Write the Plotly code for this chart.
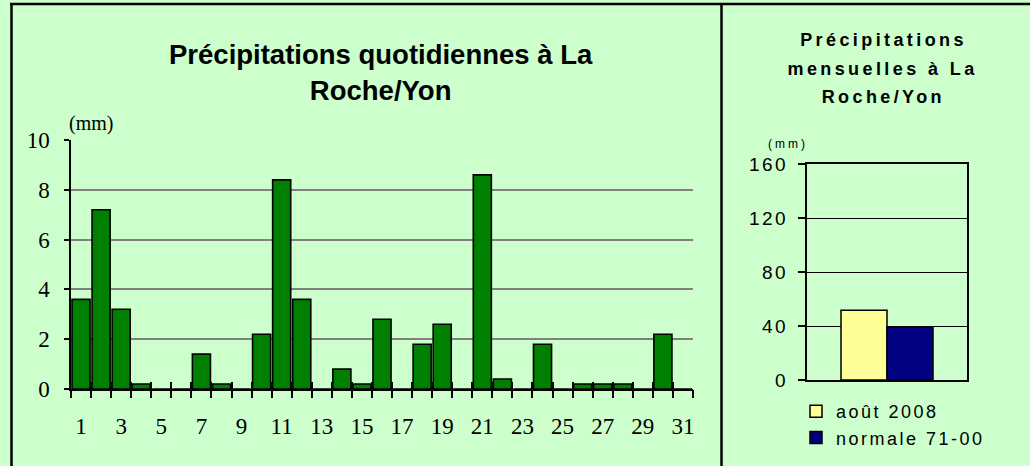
import json
import plotly.graph_objects as go

# ---------------- data ----------------
days = list(range(1, 32))
daily_rain_mm = [3.6, 7.2, 3.2, 0.2, 0, 0, 1.4, 0.2, 0, 2.2,
                 8.4, 3.6, 0, 0.8, 0.2, 2.8, 0, 1.8, 2.6, 0,
                 8.6, 0.4, 0, 1.8, 0, 0.2, 0.2, 0.2, 0, 2.2, 0]
day_tick_labels = [str(d) for d in days if d % 2 == 1]
day_tick_vals = [d for d in days if d % 2 == 1]
day_boundaries = [d - 0.5 for d in days] + [days[-1] + 0.5]

monthly_names = ["août 2008", "normale 71-00"]
monthly_values = [51.8, 39.5]
monthly_colors = ["#FFFF99", "#000080"]

left_title = "Précipitations quotidiennes à La<br>Roche/Yon"
right_title_lines = ["Précipitations", "mensuelles à La", "Roche/Yon"]

W, H = 1030, 466
BG = "#CCFFCC"
SERIF = "Liberation Serif, Times New Roman, serif"
SANS = "Liberation Sans, Arial, sans-serif"


def px(x):
    return x / W


def py(y):
    return 1 - y / H


fig = go.Figure()

# daily bars
fig.add_trace(go.Bar(
    x=days, y=daily_rain_mm, width=0.9,
    marker=dict(color="#008000", line=dict(color="black", width=1.6)),
    xaxis="x", yaxis="y", showlegend=False, hoverinfo="x+y",
))
# helper empty traces so overlay axes are drawn
fig.add_trace(go.Scatter(x=[], y=[], xaxis="x3", yaxis="y", showlegend=False))
fig.add_trace(go.Scatter(x=[], y=[], xaxis="x4", yaxis="y", showlegend=False))

# monthly bars
offsets = [-0.2875, 0.0]
for name, val, col, off in zip(monthly_names, monthly_values, monthly_colors, offsets):
    fig.add_trace(go.Bar(
        x=[0], y=[val], name=name, width=0.2875, offset=off,
        marker=dict(color=col, line=dict(color="black", width=1.5)),
        xaxis="x2", yaxis="y2",
    ))

left_dom_x = [px(71), px(693)]
left_dom_y = [py(389), py(140)]
right_dom_x = [px(807), px(967)]
right_dom_y = [py(380), py(164.3)]

fig.update_layout(
    width=W, height=H,
    margin=dict(l=0, r=0, t=0, b=0, autoexpand=False),
    paper_bgcolor=BG, plot_bgcolor=BG,
    barmode="overlay",
    font=dict(family=SANS, color="black"),
    xaxis=dict(domain=left_dom_x, anchor="y", range=[0.5, 31.5],
               tickmode="array", tickvals=day_tick_vals, ticktext=day_tick_labels,
               ticks="", ticklabelstandoff=16,
               showgrid=False, zeroline=False, showline=True,
               linecolor="black", linewidth=1.5,
               tickfont=dict(family=SERIF, size=23, color="black")),
    xaxis3=dict(overlaying="x", anchor="y", matches="x", range=[0.5, 31.5],
                tickmode="array", tickvals=day_boundaries, showticklabels=False,
                ticks="outside", ticklen=8, tickwidth=1.5, tickcolor="black",
                showgrid=False, zeroline=False, showline=False),
    xaxis4=dict(overlaying="x", anchor="y", matches="x", range=[0.5, 31.5],
                tickmode="array", tickvals=day_boundaries, showticklabels=False,
                ticks="inside", ticklen=7, tickwidth=1.5, tickcolor="black",
                showgrid=False, zeroline=False, showline=False),
    yaxis=dict(domain=left_dom_y, anchor="x", range=[0, 10], dtick=2,
               ticks="outside", ticklen=5, tickwidth=1.5, tickcolor="black",
               ticklabelstandoff=10,
               showgrid=True, gridcolor="#808080", gridwidth=2,
               zeroline=False, showline=True, linecolor="black", linewidth=1.5,
               tickfont=dict(family=SERIF, size=23, color="black")),
    xaxis2=dict(domain=right_dom_x, anchor="y2", range=[-0.5, 0.5],
                showticklabels=False, ticks="", showgrid=False, zeroline=False,
                showline=True, mirror=True, linecolor="black", linewidth=2),
    yaxis2=dict(domain=right_dom_y, anchor="x2", range=[0, 160], dtick=40,
                ticks="outside", ticklen=7, tickwidth=1.5, tickcolor="black",
                ticklabelstandoff=6,
                showgrid=True, gridcolor="black", gridwidth=1,
                zeroline=False, showline=True, mirror=True,
                linecolor="black", linewidth=2,
                tickfont=dict(family=SANS, size=19, color="black")),
    legend=dict(x=px(796), y=py(393), xanchor="left", yanchor="top",
                bgcolor="rgba(0,0,0,0)", borderwidth=0, tracegroupgap=0,
                font=dict(family=SANS, size=18, color="black")),
)

annotations = [
    dict(text=left_title, x=px(381), y=py(72), xref="paper", yref="paper",
         xanchor="center", yanchor="middle", showarrow=False, align="center",
         font=dict(family=SANS, size=27.5, color="black", weight="bold")),
    dict(text="(mm)", x=px(91), y=py(123), xref="paper", yref="paper",
         xanchor="center", yanchor="middle", showarrow=False,
         font=dict(family=SERIF, size=20, color="black")),
    dict(text="(mm)", x=px(788), y=py(144), xref="paper", yref="paper",
         xanchor="center", yanchor="middle", showarrow=False,
         font=dict(family=SANS, size=12, color="black")),
]
for line, yc in zip(right_title_lines, [40, 69, 97.5]):
    annotations.append(dict(text=line, x=px(883), y=py(yc), xref="paper", yref="paper",
                            xanchor="center", yanchor="middle", showarrow=False,
                            font=dict(family=SANS, size=18, color="black", weight="bold")))
fig.update_layout(annotations=annotations)

# frame lines
fig.update_layout(shapes=[
    dict(type="line", xref="paper", yref="paper", x0=px(10), x1=1, y0=py(4), y1=py(4),
         line=dict(color="black", width=2.5), layer="above"),
    dict(type="line", xref="paper", yref="paper", x0=px(11.5), x1=px(11.5), y0=py(4), y1=0,
         line=dict(color="black", width=2.5), layer="above"),
    dict(type="line", xref="paper", yref="paper", x0=px(721.5), x1=px(721.5), y0=py(4), y1=0,
         line=dict(color="black", width=2.5), layer="above"),
])

spaced = {line: "3.4px" for line in right_title_lines}
spaced_json = json.dumps(spaced)
post_js = """
document.documentElement.style.margin='0';
document.body.style.margin='0';
document.body.style.padding='0';
document.body.style.overflow='hidden';
var gd = document.getElementById('{plot_id}');
var SP = %s;
function applySpacing(){
  gd.querySelectorAll('.y2tick text').forEach(function(t){ t.style.letterSpacing='2.5px'; });
  gd.querySelectorAll('.legendtext').forEach(function(t){ t.style.letterSpacing='2.5px'; });
  gd.querySelectorAll('.legend [clip-path]').forEach(function(e){ e.removeAttribute('clip-path'); });
  var anns = gd.querySelectorAll('.annotation');
  anns.forEach(function(g){
    var t = g.querySelector('.annotation-text');
    if(!t) return;
    var s = t.textContent;
    if (SP[s]) { t.style.letterSpacing = SP[s]; }
    var idx = g.getAttribute('data-index');
    if (idx === '2') { t.style.letterSpacing = '3px'; }
  });
}
applySpacing();
gd.on('plotly_afterplot', applySpacing);
""" % spaced_json

fig.write_html("out.html", post_script=post_js, config={"displayModeBar": False})
